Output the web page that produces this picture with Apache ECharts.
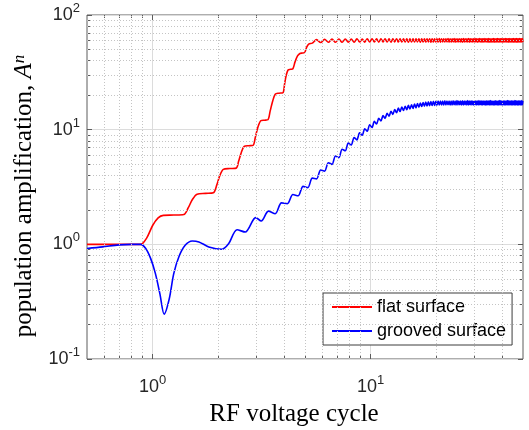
<!DOCTYPE html>
<html><head><meta charset="utf-8">
<script src="https://cdn.jsdelivr.net/npm/echarts@6/dist/echarts.min.js"></script>
<style>html,body{margin:0;padding:0;background:#fff}#c{width:529px;height:430px}</style>
</head><body><div id="c"></div>
<script>
// ---------- data ----------
const seriesNames = ['flat surface', 'grooved surface'];

const flatX = [0.5,0.88,0.94,1.0,1.06,1.12,1.25,1.39,1.46,1.52,1.6,1.75,1.9,1.97,2.03,2.11,2.26,2.42,2.48,2.55,2.63,2.76,2.89,2.96,3.04,3.14,3.26,3.38,3.46,3.55,3.65,3.8,3.96,4.03,4.1,4.18,4.29,4.4,4.5,4.62,4.74,4.87,4.99,5.08,5.2,
 5.4,5.65,5.9,6.15,6.4,6.65,6.9,7.15,7.4,7.65,7.9,8.15,8.4,8.65,8.9,9.15,9.4,9.65,9.9,10.15,10.4,10.65,10.9,11.15,11.4,11.65,11.9,12.15,12.4,12.65,12.9,13.15,13.4,13.65,13.9,14.15,14.4,14.65,14.9,15.15,15.4,15.65,15.9,16.15,16.4,16.65,16.9,17.15,17.4,17.65,17.9,18.15,18.4,18.65,18.9,19.15,19.4,19.65,19.9];
const flatY = [1.0,1.0,1.14,1.46,1.7,1.79,1.80,1.82,2.1,2.45,2.74,2.78,2.82,3.3,3.95,4.5,4.58,4.62,5.3,6.3,7.15,7.25,7.3,8.6,10.5,12.0,12.1,12.2,14.5,17.6,20.4,20.8,21.0,25,29.8,33.2,33.6,34.0,39,44,46.2,46.6,47.2,52,55.8,
 56.8,61.0,57.5,61.4,57.8,61.6,57.9,61.7,57.8,61.8,
 58.0,61.7,57.9,61.9,58.1,61.8,58.0,62.0,58.2,61.9,
 58.1,62.0,58.0,61.9,58.2,62.1,58.1,61.9,58.0,62.0,
 58.2,62.1,58.1,61.9,58.2,62.0,58.1,62.1,58.0,62.0,
 58.2,61.9,58.1,62.1,58.2,62.0,58.0,62.1,58.2,61.9,
 58.1,62.0,58.2,62.1,58.0,62.0,58.1,62.1,58.2];

const groovedX = [0.5,0.59,0.7,0.8,0.88,0.93,0.98,1.03,1.08,1.13,1.19,1.25,1.32,1.41,1.52,1.63,1.81,2.08,2.23,2.44,2.66,2.97,3.15,
 3.4,3.65,3.9,4.15,4.4,4.65,4.9,5.15,
 5.4,5.65,5.9,6.15,6.4,6.65,6.9,7.15,7.4,7.65,7.9,8.15,8.4,8.65,8.9,9.15,9.4,9.65,9.9,10.15,10.4,10.65,10.9,11.15,11.4,11.65,11.9,12.15,12.4,12.65,12.9,13.15,13.4,13.65,13.9,14.15,14.4,14.65,14.9,15.15,15.4,15.65,15.9,16.15,16.4,16.65,16.9,17.15,17.4,17.65,17.9,18.15,18.4,18.65,18.9,19.15,19.4,19.65,19.9];
const groovedY = [0.92,0.95,0.99,1.0,1.0,0.92,0.75,0.555,0.37,0.246,0.33,0.555,0.78,0.98,1.07,1.05,0.95,0.905,1.01,1.34,1.28,1.71,1.6,
 1.95,1.85,2.30,2.26,2.72,2.65,3.20,3.12,
 3.78,3.72,4.45,4.35,5.15,4.98,5.9,5.7,6.75,6.55,7.65,7.35,8.55,8.15,9.4,8.95,10.2,9.7,11.05,10.45,11.8,11.2,12.55,11.9,13.25,12.55,13.9,13.1,14.45,13.6,15.0,14.05,15.4,14.4,15.75,14.7,16.0,14.9,16.3,15.15,16.5,15.3,16.7,15.5,16.9,15.7,17.1,15.9,17.25,16.0,17.4,16.1,17.5,16.2,17.55,16.25,17.65,16.3,17.7];

// saturated part (x = 20.15 ... 49.9), shared cycle positions
const tailX = [20.15,20.4,20.65,20.9,21.15,21.4,21.65,21.9,22.15,22.4,22.65,22.9,23.15,23.4,23.65,23.9,24.15,24.4,24.65,24.9,
 25.15,25.4,25.65,25.9,26.15,26.4,26.65,26.9,27.15,27.4,27.65,27.9,28.15,28.4,28.65,28.9,29.15,29.4,29.65,29.9,
 30.15,30.4,30.65,30.9,31.15,31.4,31.65,31.9,32.15,32.4,32.65,32.9,33.15,33.4,33.65,33.9,34.15,34.4,34.65,34.9,
 35.15,35.4,35.65,35.9,36.15,36.4,36.65,36.9,37.15,37.4,37.65,37.9,38.15,38.4,38.65,38.9,39.15,39.4,39.65,39.9,
 40.15,40.4,40.65,40.9,41.15,41.4,41.65,41.9,42.15,42.4,42.65,42.9,43.15,43.4,43.65,43.9,44.15,44.4,44.65,44.9,
 45.15,45.4,45.65,45.9,46.15,46.4,46.65,46.9,47.15,47.4,47.65,47.9,48.15,48.4,48.65,48.9,49.15,49.4,49.65,49.9];
const flatTailY = [62.0,58.1,62.2,58.0, 61.9,58.2,62.1,58.1, 62.0,58.3,62.2,58.0, 62.1,58.1,61.9,58.2, 62.2,58.0,62.0,58.3,
 62.1,58.2,62.0,58.1, 61.9,58.0,62.2,58.2, 62.1,58.3,62.0,58.1, 62.2,58.0,62.1,58.2, 61.9,58.1,62.0,58.3,
 62.2,58.2,62.1,58.0, 62.0,58.1,62.3,58.2, 62.1,58.0,61.9,58.1, 62.2,58.3,62.0,58.2, 62.1,58.1,62.2,58.0,
 61.9,58.2,62.1,58.3, 62.0,58.1,62.2,58.0, 62.1,58.2,61.9,58.1, 62.3,58.0,62.1,58.2, 62.0,58.3,62.2,58.1,
 62.1,58.0,62.0,58.2, 61.9,58.1,62.2,58.3, 62.1,58.2,62.0,58.0, 62.2,58.1,62.1,58.2, 62.0,58.3,61.9,58.1,
 62.2,58.0,62.1,58.2, 62.1,58.1,62.3,58.0, 61.9,58.2,62.0,58.1, 62.2,58.3,62.1,58.2, 62.0,58.1,62.2,58.0];
const groovedTailY = [16.35,17.75,16.4,17.8, 16.45,17.75,16.4,17.85, 16.45,17.8,16.5,17.8, 16.4,17.75,16.45,17.85, 16.5,17.8,16.4,17.9,
 16.45,17.8,16.5,17.75, 16.4,17.85,16.45,17.8, 16.5,17.75,16.45,17.9, 16.4,17.8,16.5,17.85, 16.45,17.8,16.4,17.75,
 16.5,17.85,16.45,17.8, 16.4,17.9,16.5,17.8, 16.45,17.85,16.4,17.8, 16.5,17.75,16.45,17.85, 16.4,17.8,16.5,17.85,
 16.45,17.9,16.4,17.8, 16.5,17.8,16.45,17.75, 16.4,17.85,16.5,17.8, 16.45,17.8,16.4,17.9, 16.5,17.85,16.45,17.8,
 16.4,17.75,16.5,17.85, 16.45,17.8,16.4,17.8, 16.5,17.9,16.45,17.85, 16.4,17.8,16.5,17.75, 16.45,17.85,16.4,17.8,
 16.5,17.8,16.45,17.9, 16.4,17.85,16.5,17.8, 16.45,17.75,16.4,17.85, 16.5,17.8,16.45,17.8, 16.4,17.9,16.5,17.85];

const xMajorTicks = [1, 10];
const xTickExp = ['0', '1'];
const yMajorTicks = [0.1, 1, 10, 100];
const yTickExp = ['-1', '0', '1', '2'];
const xMinorTicks = [0.6,0.7,0.8,0.9,2,3,4,5,6,7,8,9,20,30,40];
const yMinorTicks = [0.2,0.3,0.4,0.5,0.6,0.7,0.8,0.9,2,3,4,5,6,7,8,9,20,30,40,50,60,70,80,90];
const xTitle = 'RF voltage cycle';
const yTitleText = 'population amplification, ';
const yTitleSym = 'A';
const yTitleSup = 'n';

// ---------- chart ----------
const zip = (xs, ys) => xs.slice(0, Math.min(xs.length, ys.length)).map((x, i) => [x, ys[i]]);
const FRAME = '#5c5c5c';
const LABEL = '#262626';

function expLabel(ticks, exps) {
  return function (v) {
    for (let i = 0; i < ticks.length; i++) {
      if (Math.abs(Math.log10(v) - Math.log10(ticks[i])) < 1e-6) return '{b|10}{s|' + exps[i] + '}';
    }
    return '';
  };
}
const labelRich = {
  b: { fontFamily: 'Liberation Sans', fontSize: 18, lineHeight: 26, color: LABEL, verticalAlign: 'middle' },
  s: { fontFamily: 'Liberation Sans', fontSize: 13, lineHeight: 12, color: LABEL, verticalAlign: 'top', padding: [0, 0, 14, 0] }
};

function logAxis(kind, pos, ticks, len, labelCfg, split) {
  const isX = kind === 'x';
  return {
    type: 'log', logBase: 10,
    min: isX ? 0.5 : 0.1, max: isX ? 50 : 100,
    position: pos,
    axisLine: { show: false },
    axisTick: { show: true, inside: true, length: len, customValues: ticks, lineStyle: { color: FRAME, width: 1 } },
    minorTick: { show: false },
    axisLabel: labelCfg ? Object.assign({ show: true, customValues: ticks }, labelCfg) : { show: false },
    splitLine: split ? { show: true, lineStyle: { color: '#dcdcdc', width: 1 } } : { show: false },
    minorSplitLine: { show: false },
    silent: true
  };
}

const chart = echarts.init(document.getElementById('c'), null, { renderer: 'canvas' });
chart.setOption({
  animation: false,
  backgroundColor: '#ffffff',
  grid: { left: 87, top: 15, width: 436, height: 344, show: true, borderColor: FRAME, borderWidth: 1, backgroundColor: '#ffffff', containLabel: false, outerBoundsMode: 'none' },
  xAxis: [
    logAxis('x', 'bottom', xMajorTicks, 5, { formatter: expLabel(xMajorTicks, xTickExp), rich: labelRich, margin: 15 }, true),
    logAxis('x', 'bottom', xMinorTicks, 3, null, false),
    logAxis('x', 'top', xMajorTicks, 5, null, false),
    logAxis('x', 'top', xMinorTicks, 3, null, false)
  ],
  yAxis: [
    logAxis('y', 'left', yMajorTicks, 5, { formatter: expLabel(yMajorTicks, yTickExp), rich: labelRich, margin: 7 }, true),
    logAxis('y', 'left', yMinorTicks, 3, null, false),
    logAxis('y', 'right', yMajorTicks, 5, null, false),
    logAxis('y', 'right', yMinorTicks, 3, null, false)
  ],
  legend: {
    data: seriesNames,
    icon: 'rect',
    orient: 'vertical', left: 323, top: 293,
    padding: [5, 6, 5, 9],
    itemWidth: 40, itemHeight: 2, itemGap: 6,
    backgroundColor: '#ffffff', borderColor: '#3c3c3c', borderWidth: 1, borderRadius: 0,
    selectedMode: false,
    textStyle: { fontFamily: 'Liberation Sans', fontSize: 18, lineHeight: 18, color: '#000' }
  },
  graphic: [
    { type: 'text', x: 294, y: 414, silent: true,
      style: { text: xTitle, fontFamily: 'Liberation Serif', fontSize: 25, fill: '#000', align: 'center', verticalAlign: 'middle' } },
    { type: 'text', x: 24, y: 196, rotation: Math.PI / 2, silent: true,
      style: {
        text: '{t|' + yTitleText + '}{i|' + yTitleSym + '}{n|' + yTitleSup + '}',
        align: 'center', verticalAlign: 'middle',
        rich: {
          t: { fontFamily: 'Liberation Serif', fontSize: 25, lineHeight: 25, fill: '#000', verticalAlign: 'bottom' },
          i: { fontFamily: 'Liberation Serif', fontStyle: 'italic', fontSize: 25, lineHeight: 25, fill: '#000', verticalAlign: 'bottom' },
          n: { fontFamily: 'Liberation Serif', fontStyle: 'italic', fontSize: 17, lineHeight: 16, fill: '#000', verticalAlign: 'top', padding: [0, 0, 14, 0] }
        }
      } }
  ],
  series: [
    { type: 'line', name: 'minor-grid', xAxisIndex: 0, yAxisIndex: 0, data: [[1, 1]], symbol: 'none', silent: true, z: 1,
      lineStyle: { opacity: 0 },
      markLine: { silent: true, symbol: ['none', 'none'], label: { show: false }, animation: false,
        lineStyle: { type: [1, 2], color: '#c4c4c4', width: 1 },
        emphasis: { disabled: true },
        data: xMinorTicks.map(v => ({ xAxis: v })).concat(yMinorTicks.map(v => ({ yAxis: v }))) } },
    { type: 'line', name: seriesNames[0], xAxisIndex: 0, yAxisIndex: 0, data: zip(flatX.concat(tailX), flatY.concat(flatTailY)),
      symbol: 'none', smooth: 0.3, z: 3, lineStyle: { color: '#ff0000', width: 1.6 }, itemStyle: { color: '#ff0000' } },
    { type: 'line', name: seriesNames[1], xAxisIndex: 0, yAxisIndex: 0, data: zip(groovedX.concat(tailX), groovedY.concat(groovedTailY)),
      symbol: 'none', smooth: 0.3, z: 4, lineStyle: { color: '#0000ff', width: 1.6 }, itemStyle: { color: '#0000ff' } }
  ]
});
</script>
</body></html>
